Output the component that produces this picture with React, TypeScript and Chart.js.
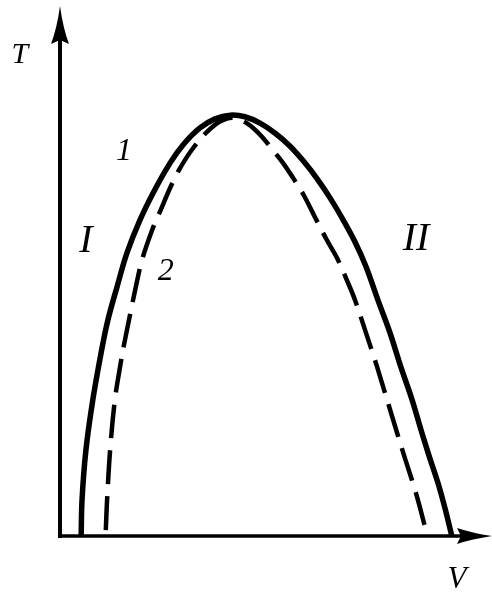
import React, { useEffect, useRef } from "react";
import { Chart, registerables } from "chart.js";

Chart.register(...registerables);

// Curve 1 (solid): V, T in arbitrary units
const solidV = [4.9, 5.1, 6.0, 7.6, 9.5, 11.1, 13.2, 15.5, 18.5, 21.8, 25.5, 28.7, 32.4, 35.9, 39.4, 42.8, 46.3, 49.8, 53.2, 56.5, 59.7, 62.5, 65.3, 68.1, 70.8, 73.6, 76.4, 78.9, 81.5, 83.8, 85.6, 87.5, 89.1, 90.7];
const solidT = [0, 6.8, 16.2, 25.7, 34.5, 40.8, 47.0, 53.4, 59.6, 65.1, 70.4, 74.0, 77.0, 78.7, 79.4, 79.1, 77.9, 76.0, 73.6, 70.6, 67.2, 63.8, 60.0, 55.8, 50.9, 44.5, 38.3, 31.9, 25.7, 19.4, 14.7, 10.0, 5.3, 0];

// Curve 2 (dashed)
const dashedV = [10.6, 10.9, 11.6, 12.7, 13.9, 14.8, 16.2, 17.4, 19.0, 21.5, 23.2, 25.5, 27.3, 29.2, 31.0, 32.9, 35.0, 37.3, 39.8, 42.4, 44.7, 46.8, 49.1, 51.6, 54.4, 56.5, 59.0, 61.8, 64.1, 66.4, 68.3, 70.6, 73.4, 76.9, 79.6, 82.4, 84.7];
const dashedT = [1.1, 6.8, 16.2, 25.7, 31.9, 36.0, 41.7, 46.4, 52.1, 58.1, 61.3, 65.7, 68.7, 71.3, 73.4, 75.3, 77.0, 78.3, 78.9, 78.3, 77.0, 75.3, 73.0, 70.4, 67.0, 64.2, 60.2, 55.8, 52.5, 48.3, 44.5, 38.9, 31.9, 22.5, 15.3, 8.1, 1.1];

// Axis extent
const axisMaxV = 100;
const axisMaxT = 100;

// Text labels and their anchor values (V, T)
const labelText = ["T", "V", "I", "II", "1", "2"];
const labelV = [-9.3, 91.9, 6.0, 82.4, 14.8, 24.5];
const labelT = [89.2, -9.8, 53.6, 54.0, 70.9, 48.3];

const labelFontPx = [30, 31, 40, 40, 32, 32];
const fontFamily = `"Liberation Serif", "Times New Roman", "DejaVu Serif", serif`;

const axesPlugin = {
  id: "axesArrows",
  afterDatasetsDraw(chart: any) {
    const { ctx } = chart;
    const xs = chart.scales.x;
    const ys = chart.scales.y;
    const x0 = xs.getPixelForValue(0);
    const y0 = ys.getPixelForValue(0);
    const xEnd = xs.getPixelForValue(axisMaxV);
    const yEnd = ys.getPixelForValue(axisMaxT);
    ctx.save();
    ctx.strokeStyle = "#000";
    ctx.fillStyle = "#000";
    ctx.lineCap = "butt";
    // y axis
    ctx.lineWidth = 4;
    ctx.beginPath();
    ctx.moveTo(x0, y0 + 2);
    ctx.lineTo(x0, yEnd + 30);
    ctx.stroke();
    ctx.beginPath();
    ctx.moveTo(x0, yEnd);
    ctx.quadraticCurveTo(x0 + 3, yEnd + 22, x0 + 9, yEnd + 38);
    ctx.lineTo(x0, yEnd + 34);
    ctx.lineTo(x0 - 9, yEnd + 38);
    ctx.quadraticCurveTo(x0 - 3, yEnd + 22, x0, yEnd);
    ctx.closePath();
    ctx.fill();
    // x axis
    ctx.lineWidth = 3.5;
    ctx.beginPath();
    ctx.moveTo(x0 - 2, y0);
    ctx.lineTo(xEnd - 30, y0);
    ctx.stroke();
    ctx.beginPath();
    ctx.moveTo(xEnd, y0);
    ctx.quadraticCurveTo(xEnd - 20, y0 - 3, xEnd - 35, y0 - 8);
    ctx.lineTo(xEnd - 31, y0);
    ctx.lineTo(xEnd - 35, y0 + 8);
    ctx.quadraticCurveTo(xEnd - 20, y0 + 3, xEnd, y0);
    ctx.closePath();
    ctx.fill();
    // labels
    ctx.textAlign = "center";
    ctx.textBaseline = "alphabetic";
    for (let i = 0; i < labelText.length; i++) {
      ctx.font = `italic ${labelFontPx[i]}px ${fontFamily}`;
      ctx.fillText(labelText[i], xs.getPixelForValue(labelV[i]), ys.getPixelForValue(labelT[i]));
    }
    ctx.restore();
  },
};

export default function App() {
  const ref = useRef<HTMLCanvasElement | null>(null);
  useEffect(() => {
    let chart: any = null;
    let cancelled = false;
    const build = () => {
      if (cancelled || !ref.current) return;
      chart = new Chart(ref.current, {
        type: "scatter",
        data: {
          datasets: [
            {
              label: "1",
              data: solidV.map((v, i) => ({ x: v, y: solidT[i] })),
              showLine: true,
              borderColor: "#000",
              backgroundColor: "#000",
              borderWidth: 5.5,
              pointRadius: 0,
              tension: 0.35,
              fill: false,
              clip: false,
              borderCapStyle: "butt",
            },
            {
              label: "2",
              data: dashedV.map((v, i) => ({ x: v, y: dashedT[i] })),
              showLine: true,
              borderColor: "#000",
              backgroundColor: "#000",
              borderWidth: 4.5,
              borderDash: [34, 12],
              pointRadius: 0,
              tension: 0.35,
              fill: false,
              clip: false,
              borderCapStyle: "butt",
            },
          ],
        },
        options: {
          animation: false,
          responsive: false,
          devicePixelRatio: 1,
          layout: { padding: { left: 60, right: 0, top: 6, bottom: 56 } },
          plugins: { legend: { display: false }, tooltip: { enabled: false }, title: { display: false } },
          scales: {
            x: { type: "linear", min: 0, max: axisMaxV, display: false },
            y: { type: "linear", min: 0, max: axisMaxT, display: false },
          },
        },
        plugins: [axesPlugin],
      } as any);
    };
    const fonts: any = (document as any).fonts;
    if (fonts && fonts.load) {
      Promise.all([
        fonts.load(`italic 30px "Liberation Serif"`),
        fonts.load(`italic 40px "Liberation Serif"`),
      ])
        .catch(() => undefined)
        .then(build);
    } else {
      build();
    }
    return () => {
      cancelled = true;
      if (chart) chart.destroy();
    };
  }, []);
  return (
    <div style={{ position: "fixed", left: 0, top: 0, width: 492, height: 592, background: "#fff" }}>
      <canvas ref={ref} width={492} height={592} style={{ display: "block" }} />
    </div>
  );
}
